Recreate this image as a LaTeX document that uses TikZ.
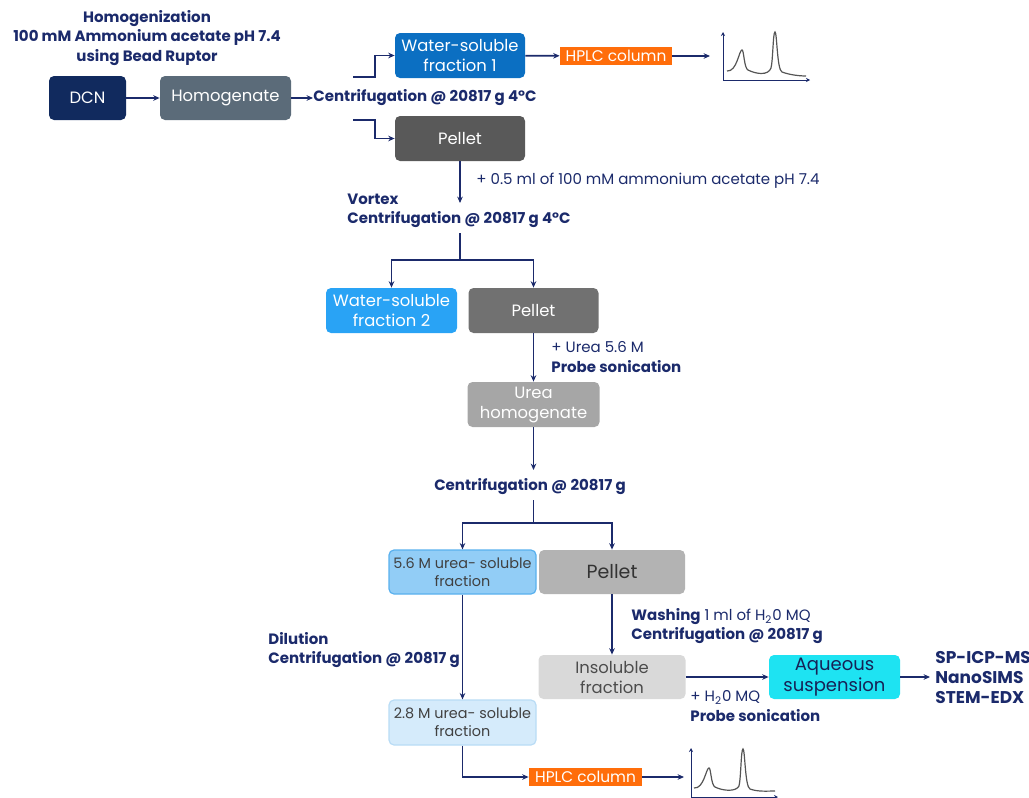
\documentclass[tikz,border=0pt]{standalone}
\usepackage{fontspec}
\setmainfont{Poppins}
\usetikzlibrary{arrows.meta,positioning}

\definecolor{navy}{HTML}{1B2A6B}
\definecolor{dcnblue}{HTML}{112A5E}
\definecolor{slate}{HTML}{5B6B79}
\definecolor{wsone}{HTML}{0B6FC2}
\definecolor{wstwo}{HTML}{29A3F5}
\definecolor{pelone}{HTML}{595959}
\definecolor{peltwo}{HTML}{717171}
\definecolor{pelthree}{HTML}{B3B3B3}
\definecolor{ureagray}{HTML}{A6A6A6}
\definecolor{insolgray}{HTML}{D9D9D9}
\definecolor{hplcorange}{HTML}{FF6D0A}
\definecolor{ureamid}{HTML}{92CDF6}
\definecolor{ureamidline}{HTML}{59B0EE}
\definecolor{urealight}{HTML}{D5EBFB}
\definecolor{urealightline}{HTML}{B9DCF5}
\definecolor{aqcyan}{HTML}{1EE3F2}
\definecolor{peakgray}{HTML}{555555}

\begin{document}
\begin{tikzpicture}[x=0.5pt, y=-0.5pt,
  sz/.style 2 args={minimum width=#1*0.5pt, minimum height=#2*0.5pt},
  box/.style={rounded corners=2.5pt, align=center, inner sep=0pt, text=white,
    font=\fontsize{8.2}{10}\selectfont},
  hplc/.style={fill=hplcorange, text=white, inner sep=0pt, font=\fontsize{7.7}{8}\selectfont},
  lbl/.style={text=navy, align=left, inner sep=0pt, font=\fontsize{7.5}{9.6}\selectfont\bfseries},
  note/.style={text=navy, align=left, inner sep=0pt, font=\fontsize{7.5}{9.6}\selectfont},
  arr/.style={draw=navy, line width=0.85pt, -{Stealth[length=3.2pt,width=2.8pt]}},
  ln/.style={draw=navy, line width=0.85pt},
  axis/.style={draw=navy, line width=0.5pt, -{Stealth[length=2pt,width=2pt]}},
  peak/.style={draw=peakgray, line width=0.6pt}]
  \useasboundingbox (0,0) rectangle (1029,798);

  % first step
  \node[lbl, align=center] (title) at (147,38) {Homogenization\\100 mM Ammonium acetate pH 7.4\\using Bead Ruptor};
  \node[box, sz={77}{44}, fill=dcnblue] (dcn) at (87.5,98) {DCN};
  \node[box, sz={131}{44}, fill=slate] (homog) at (225.5,98) {Homogenate};
  \node[lbl, anchor=west] (cent1) at (313,98) {Centrifugation @ 20817 g 4°C};
  \node[box, sz={130}{45}, fill=wsone] (ws1) at (460,55.5) {Water-soluble\\fraction 1};
  \node[box, sz={130}{45}, fill=pelone] (pel1) at (460,138.5) {Pellet};
  \node[hplc, sz={112}{18}] (hplc1) at (616,56) {HPLC column};
  \coordinate (b1) at (353,77);
  \coordinate (b2) at (353,120);
  \coordinate (chrom1) at (710,56);

  \draw[arr] (dcn) -- (homog);
  \draw[arr] (homog) -- (cent1);
  \draw[arr] (b1) -- ++(22,0) |- (ws1);
  \draw[arr] (b2) -- ++(22,0) |- (pel1);
  \draw[arr] (ws1) -- (hplc1);
  \draw[arr] (hplc1) -- (chrom1);

  % chromatogram 1
  \draw[axis] (723,80) -- (723,32);
  \draw[axis] (723,80) -- (810,80);
  \draw[peak] (727,71) .. controls (737,72) and (739,50) .. (742,50)
    .. controls (744,50) and (744,68) .. (748,70)
    .. controls (756,74) and (768,76) .. (771,68)
    .. controls (773,60) and (773,32) .. (775,32)
    .. controls (777,32) and (777,70) .. (782,72)
    .. controls (790,75) and (800,76) .. (806,76);

  % second step
  \coordinate (v1) at (460,203);
  \draw[arr] (pel1) -- (v1);
  \node[note, anchor=west] (addbuf) at (476,181) {+ 0.5 ml of 100 mM ammonium acetate pH 7.4};
  \node[lbl, anchor=west] (vortex) at (347,210.5) {Vortex\\Centrifugation @ 20817 g 4°C};
  \node[box, sz={131}{45}, fill=wstwo] (ws2) at (391.5,310.5) {Water-soluble\\fraction 2};
  \node[box, sz={130}{45}, fill=peltwo] (pel2) at (533.5,310.5) {Pellet};
  \coordinate (s2) at (460,233);
  \coordinate (j2) at (460,260);
  \draw[ln] (s2) -- (j2);
  \draw[arr] (j2) -| (ws2);
  \draw[arr] (j2) -| (pel2);

  % urea step
  \node[box, sz={132}{45}, fill=ureagray] (ureah) at (533.5,404.5) {Urea\\homogenate};
  \node[note, anchor=west] (urea) at (551,357) {+ Urea 5.6 M\\\textbf{Probe sonication}};
  \draw[arr] (pel2) -- (ureah);
  \coordinate (c3) at (533.5,470);
  \draw[arr] (ureah) -- (c3);
  \node[lbl] (cent3) at (530,487) {Centrifugation @ 20817 g};
  \coordinate (s3) at (533.5,500);
  \coordinate (j3) at (533.5,523);
  \draw[ln] (s3) -- (j3);
  \node[box, sz={147}{44}, fill=ureamid, draw=ureamidline, line width=0.6pt, text=black!75,
    font=\fontsize{7.2}{9}\selectfont] (u56) at (462.5,572) {5.6 M urea- soluble\\fraction};
  \node[box, sz={146}{44}, fill=pelthree, text=black!80, font=\fontsize{9.5}{10}\selectfont] (pel3) at (612,572) {Pellet};
  \draw[arr] (j3) -| (u56);
  \draw[arr] (j3) -| (pel3);

  % soluble branch
  \node[box, sz={147}{45}, fill=urealight, draw=urealightline, line width=0.6pt, text=black!75,
    font=\fontsize{7.2}{9}\selectfont] (u28) at (462.5,722.5) {2.8 M urea- soluble\\fraction};
  \node[lbl, anchor=west] (dilution) at (268,650) {Dilution\\Centrifugation @ 20817 g};
  \draw[arr] (u56) -- (u28);
  \node[hplc, sz={113}{18}] (hplc2) at (585.5,777) {HPLC column};
  \coordinate (chrom2) at (684,777);
  \draw[arr] (u28) |- (hplc2);
  \draw[arr] (hplc2) -- (chrom2);

  % chromatogram 2
  \draw[axis] (691,797) -- (691,748);
  \draw[axis] (691,797) -- (778,797);
  \draw[peak] (694,788) .. controls (704,789) and (706,768) .. (709,768)
    .. controls (711,768) and (711,785) .. (715,787)
    .. controls (723,791) and (736,792) .. (739,786)
    .. controls (741,778) and (741,749) .. (743,749)
    .. controls (745,749) and (745,787) .. (750,789)
    .. controls (758,792) and (768,791) .. (775,791);

  % insoluble branch
  \node[box, sz={147}{44}, fill=insolgray, text=black!70] (insol) at (612,677) {Insoluble\\fraction};
  \node[note, anchor=west] (washing) at (631,626) {\textbf{Washing} 1 ml of H\textsubscript{2}0 MQ\\\textbf{Centrifugation @ 20817 g}};
  \draw[arr] (pel3) -- (insol);
  \node[box, sz={131}{44}, fill=aqcyan, text=navy!80!black, font=\fontsize{9}{10.5}\selectfont] (aq) at (834.5,677) {Aqueous\\suspension};
  \node[note, anchor=west] (h2o) at (690,706) {+ H\textsubscript{2}0 MQ\\\textbf{Probe sonication}};
  \draw[arr] (insol) -- (aq);
  \coordinate (t1) at (930,677);
  \draw[arr] (aq) -- (t1);
  \node[lbl, anchor=west, font=\fontsize{8.5}{10}\selectfont\bfseries] (techs) at (935,677) {SP-ICP-MS\\NanoSIMS\\STEM-EDX};
\end{tikzpicture}
\end{document}
